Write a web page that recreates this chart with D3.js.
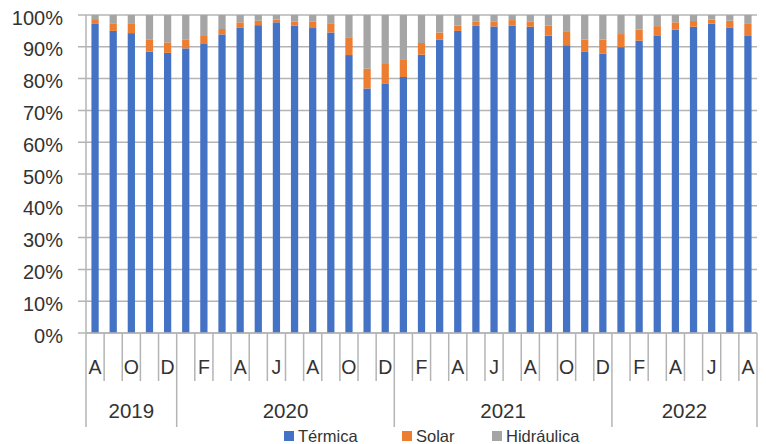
<!DOCTYPE html>
<html>
<head>
<meta charset="utf-8">
<script src="https://cdn.jsdelivr.net/npm/d3@7"></script>
<style>
  body { margin: 0; background: #fff; }
  svg { display: block; font-family: "Liberation Sans", Arial, sans-serif; }
</style>
</head>
<body>
<svg id="chart" width="766" height="444"></svg>
<script>
// Months, Aug 2019 - Aug 2022
const categories = [
  "2019-08","2019-09","2019-10","2019-11","2019-12",
  "2020-01","2020-02","2020-03","2020-04","2020-05","2020-06","2020-07","2020-08","2020-09","2020-10","2020-11","2020-12",
  "2021-01","2021-02","2021-03","2021-04","2021-05","2021-06","2021-07","2021-08","2021-09","2021-10","2021-11","2021-12",
  "2022-01","2022-02","2022-03","2022-04","2022-05","2022-06","2022-07","2022-08"
];
const monthLetters = ["E","F","M","A","M","J","J","A","S","O","N","D"];
const years = ["2019", "2020", "2021", "2022"];

const termica = [
  97.2, 95.0, 94.3, 88.5, 88.1,
  89.5, 91.1, 93.9, 96.1, 96.8, 97.7, 96.6, 95.9, 94.5, 87.4, 76.9, 78.5,
  80.5, 87.5, 92.3, 95.0, 96.6, 96.4, 96.7, 96.3, 93.5, 90.5, 88.4, 87.9,
  89.9, 91.9, 93.6, 95.4, 96.3, 97.3, 96.1, 93.6
];
const solar = [
  1.5, 2.4, 2.9, 3.7, 3.3,
  2.7, 2.3, 1.7, 1.6, 1.4, 0.9, 1.3, 2.1, 2.9, 5.4, 6.2, 6.1,
  5.6, 3.7, 2.2, 1.7, 1.4, 1.6, 1.7, 1.7, 3.2, 4.4, 3.9, 4.4,
  4.1, 3.5, 2.9, 2.3, 1.8, 1.3, 2.1, 3.6
];
const hidraulica = [
  1.3, 2.6, 2.8, 7.8, 8.6,
  7.8, 6.6, 4.4, 2.3, 1.8, 1.4, 2.1, 2.0, 2.6, 7.2, 16.9, 15.4,
  13.9, 8.8, 5.5, 3.3, 2.0, 2.0, 1.6, 2.0, 3.3, 5.1, 7.7, 7.7,
  6.0, 4.6, 3.5, 2.3, 1.9, 1.4, 1.8, 2.8
];

const seriesNames = ["Térmica", "Solar", "Hidráulica"];
const colors = ["#4472C4", "#ED7D31", "#A5A5A5"];

const svg = d3.select("#chart");
const margin = { top: 15, right: 9, bottom: 111, left: 86 };
const width = 766 - margin.left - margin.right;
const height = 444 - margin.top - margin.bottom;
const gridColor = "#b4b4b4";
const textColor = "#333";

const rows = categories.map((c, i) => ({
  cat: c, "Térmica": termica[i], "Solar": solar[i], "Hidráulica": hidraulica[i]
}));
const stacked = d3.stack().keys(seriesNames)(rows);

const xScale = d3.scaleBand()
  .domain(categories)
  .range([0, width])
  .paddingInner(0.6)
  .paddingOuter(0.3);
const yScale = d3.scaleLinear().domain([0, 100]).range([height, 0]);

const g = svg.append("g").attr("transform", `translate(${margin.left},${margin.top})`);

// Gridlines
g.append("g")
  .selectAll("line")
  .data(yScale.ticks(10))
  .join("line")
    .attr("x1", -8)
    .attr("x2", width)
    .attr("y1", d => yScale(d))
    .attr("y2", d => yScale(d))
    .attr("stroke", gridColor)
    .attr("stroke-width", 1.5);

// Y labels
g.append("g")
  .selectAll("text")
  .data(yScale.ticks(10))
  .join("text")
    .attr("x", -23)
    .attr("y", d => yScale(d) + 9.5)
    .attr("text-anchor", "end")
    .attr("font-size", 20)
    .attr("fill", textColor)
    .text(d => d + "%");

// Bars
g.append("g")
  .selectAll("g")
  .data(stacked)
  .join("g")
    .attr("fill", (d, i) => colors[i])
  .selectAll("rect")
  .data(d => d)
  .join("rect")
    .attr("x", d => xScale(d.data.cat))
    .attr("width", xScale.bandwidth())
    .attr("y", d => yScale(d[1]))
    .attr("height", d => yScale(d[0]) - yScale(d[1]));

// Axis lines
g.append("line")
  .attr("x1", 0).attr("x2", 0).attr("y1", 0).attr("y2", height)
  .attr("stroke", gridColor).attr("stroke-width", 1.5);
g.append("line")
  .attr("x1", 0).attr("x2", width).attr("y1", height).attr("y2", height)
  .attr("stroke", gridColor).attr("stroke-width", 1.5);

// Category boundaries
const edge = (xScale.step() - xScale.bandwidth()) / 2;
const leftOf = c => xScale(c) - edge;
const boundaries = categories.map(leftOf).concat([leftOf(categories[categories.length - 1]) + xScale.step()]);
const yearStarts = new Set(years.map(y => categories.findIndex(c => c.startsWith(y))));
yearStarts.add(categories.length);

g.append("g")
  .selectAll("line")
  .data(boundaries)
  .join("line")
    .attr("x1", d => d).attr("x2", d => d)
    .attr("y1", height)
    .attr("y2", (d, i) => yearStarts.has(i) ? height + 94 : height + 48)
    .attr("stroke", gridColor)
    .attr("stroke-width", 1.5);

// Month labels (every other month)
g.append("g")
  .selectAll("text")
  .data(categories.filter((c, i) => i % 2 === 0))
  .join("text")
    .attr("x", d => xScale(d) + xScale.bandwidth() / 2)
    .attr("y", height + 41)
    .attr("text-anchor", "middle")
    .attr("font-size", 19.5)
    .attr("fill", textColor)
    .text(d => monthLetters[+d.slice(5) - 1]);

// Year labels
g.append("g")
  .selectAll("text")
  .data(years)
  .join("text")
    .attr("x", y => {
      const cs = categories.filter(c => c.startsWith(y));
      return (leftOf(cs[0]) + leftOf(cs[cs.length - 1]) + xScale.step()) / 2;
    })
    .attr("y", height + 85)
    .attr("text-anchor", "middle")
    .attr("font-size", 20.5)
    .attr("fill", textColor)
    .text(d => d);

// Legend
const legendX = [284, 402, 492];
const legend = svg.append("g")
  .selectAll("g")
  .data(seriesNames)
  .join("g")
    .attr("transform", (d, i) => `translate(${legendX[i]},431)`);
legend.append("rect")
  .attr("width", 10).attr("height", 10)
  .attr("fill", (d, i) => colors[i]);
legend.append("text")
  .attr("x", 14)
  .attr("y", 10.5)
  .attr("font-size", 16.5)
  .attr("fill", textColor)
  .text(d => d);
</script>
</body>
</html>
